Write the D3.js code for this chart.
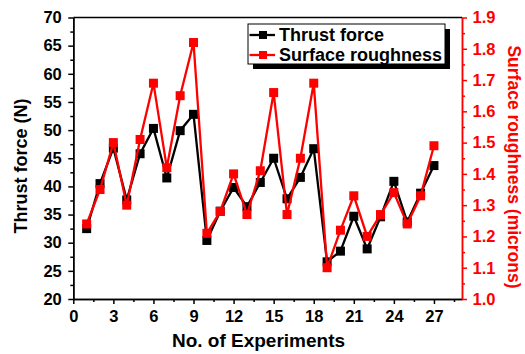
<!DOCTYPE html>
<html>
<head>
<meta charset="utf-8">
<script src="https://cdnjs.cloudflare.com/ajax/libs/d3/7.8.5/d3.min.js"></script>
<style>
  body { margin: 0; background: #fff; }
  text { font-family: "Liberation Sans", Arial, sans-serif; font-weight: bold; }
</style>
</head>
<body>
<div id="chart"></div>
<script>
var experiments = d3.range(1, 28);
var thrustForce = [32.5, 40.5, 46.8, 37.6, 45.8, 50.3, 41.5, 49.9, 52.8, 30.4, 35.6, 39.8, 36.4, 40.7,
	45.0, 37.8, 41.6, 46.7, 26.6, 28.5, 34.7, 28.9, 34.6, 40.9, 33.7, 38.8, 43.7];
var roughness = [1.24, 1.35, 1.50, 1.30, 1.51, 1.69, 1.42, 1.65, 1.82, 1.21, 1.28, 1.40, 1.27, 1.41,
	1.66, 1.27, 1.45, 1.69, 1.10, 1.22, 1.33, 1.20, 1.27, 1.34, 1.24, 1.33, 1.49];
var xTicks = [0, 3, 6, 9, 12, 15, 18, 21, 24, 27];
var leftTicks = [20, 25, 30, 35, 40, 45, 50, 55, 60, 65, 70];
var rightTicks = [1.0, 1.1, 1.2, 1.3, 1.4, 1.5, 1.6, 1.7, 1.8, 1.9];
var legendLabels = ['Thrust force', 'Surface roughness'];
var colors = ['#000000', '#ff0000'];

var width = 525, height = 354;
var plotLeft = 73.3, plotRight = 462, plotTop = 17.5, plotBottom = 299;

var svg = d3.select('#chart').append('svg').attr('width', width).attr('height', height);

var x = d3.scaleLinear().domain([0, 29.1]).range([plotLeft, plotRight]);
var y = d3.scaleLinear().domain([20, 70]).range([plotBottom, plotTop]);
var y2 = d3.scaleLinear().domain([1.0, 1.9]).range([plotBottom, plotTop]);

// minor ticks
var xMinor = d3.range(1.5, 29, 3);
var yMinor = d3.range(22.5, 70, 5);
var y2Minor = d3.range(1.05, 1.9, 0.1);

function styleAxis(g, color) {
	g.selectAll('path').attr('stroke', color).attr('stroke-width', 1.5);
	g.selectAll('line').attr('stroke', color).attr('stroke-width', 1.5);
	g.selectAll('text').attr('fill', color).style('font-size', '16.5px');
}

svg.append('g').attr('transform', 'translate(0,' + plotBottom + ')')
	.call(d3.axisBottom(x).tickValues(xMinor).tickSize(3).tickFormat('').tickSizeOuter(0))
	.call(styleAxis, '#000');
svg.append('g').attr('transform', 'translate(' + plotLeft + ',0)')
	.call(d3.axisLeft(y).tickValues(yMinor).tickSize(3).tickFormat('').tickSizeOuter(0))
	.call(styleAxis, '#000');
svg.append('g').attr('transform', 'translate(' + plotRight + ',0)')
	.call(d3.axisRight(y2).tickValues(y2Minor).tickSize(3).tickFormat('').tickSizeOuter(0))
	.call(styleAxis, '#ff0000');

svg.append('g').attr('transform', 'translate(0,' + plotBottom + ')')
	.call(d3.axisBottom(x).tickValues(xTicks).tickSize(5).tickPadding(6).tickSizeOuter(0))
	.call(styleAxis, '#000');
svg.append('g').attr('transform', 'translate(' + plotLeft + ',0)')
	.call(d3.axisLeft(y).tickValues(leftTicks).tickSize(5).tickPadding(6.5).tickSizeOuter(0))
	.call(styleAxis, '#000');
svg.append('g').attr('transform', 'translate(' + plotRight + ',0)')
	.call(d3.axisRight(y2).tickValues(rightTicks).tickSize(5).tickPadding(5.5).tickFormat(d3.format('.1f')).tickSizeOuter(0))
	.call(styleAxis, '#ff0000');

// top border
svg.append('line').attr('x1', plotLeft).attr('x2', plotRight).attr('y1', plotTop).attr('y2', plotTop)
	.attr('stroke', '#000').attr('stroke-width', 1.5);

// series
var series = [
	{ values: thrustForce, scale: y, color: colors[0] },
	{ values: roughness, scale: y2, color: colors[1] }
];

series.forEach(function (s) {
	var line = d3.line()
		.x(function (d, i) { return x(experiments[i]); })
		.y(function (d) { return s.scale(d); });
	svg.append('path').datum(s.values).attr('d', line)
		.attr('fill', 'none').attr('stroke', s.color).attr('stroke-width', 2.3);
	svg.append('g').selectAll('rect').data(s.values).enter().append('rect')
		.attr('x', function (d, i) { return x(experiments[i]) - 4.5; })
		.attr('y', function (d) { return s.scale(d) - 4.5; })
		.attr('width', 9).attr('height', 9)
		.attr('fill', s.color);
});

// legend
var lg = svg.append('g').attr('transform', 'translate(248,24)');
lg.append('rect').attr('x', 5).attr('y', 5).attr('width', 197).attr('height', 40).attr('fill', '#000');
lg.append('rect').attr('x', 0).attr('y', 0).attr('width', 197).attr('height', 40)
	.attr('fill', '#fff').attr('stroke', '#000').attr('stroke-width', 1);
legendLabels.forEach(function (label, i) {
	var ly = 11 + i * 20;
	lg.append('line').attr('x1', 1.5).attr('x2', 27).attr('y1', ly).attr('y2', ly)
		.attr('stroke', colors[i]).attr('stroke-width', 2.3);
	lg.append('rect').attr('x', 15 - 4).attr('y', ly - 4).attr('width', 8).attr('height', 8).attr('fill', colors[i]);
	lg.append('text').attr('x', 31).attr('y', ly + 5.8).text(label).style('font-size', '18px').attr('fill', '#000');
});

// axis titles
svg.append('text').attr('x', 258.5).attr('y', 347).attr('text-anchor', 'middle')
	.style('font-size', '19px').text('No. of Experiments');
svg.append('text').attr('transform', 'translate(27,166) rotate(-90)').attr('text-anchor', 'middle')
	.style('font-size', '18px').text('Thrust force (N)');
svg.append('text').attr('transform', 'translate(508,167) rotate(90)').attr('text-anchor', 'middle')
	.style('font-size', '17.5px').attr('fill', '#ff0000').text('Surface roughness (microns)');
</script>
</body>
</html>
